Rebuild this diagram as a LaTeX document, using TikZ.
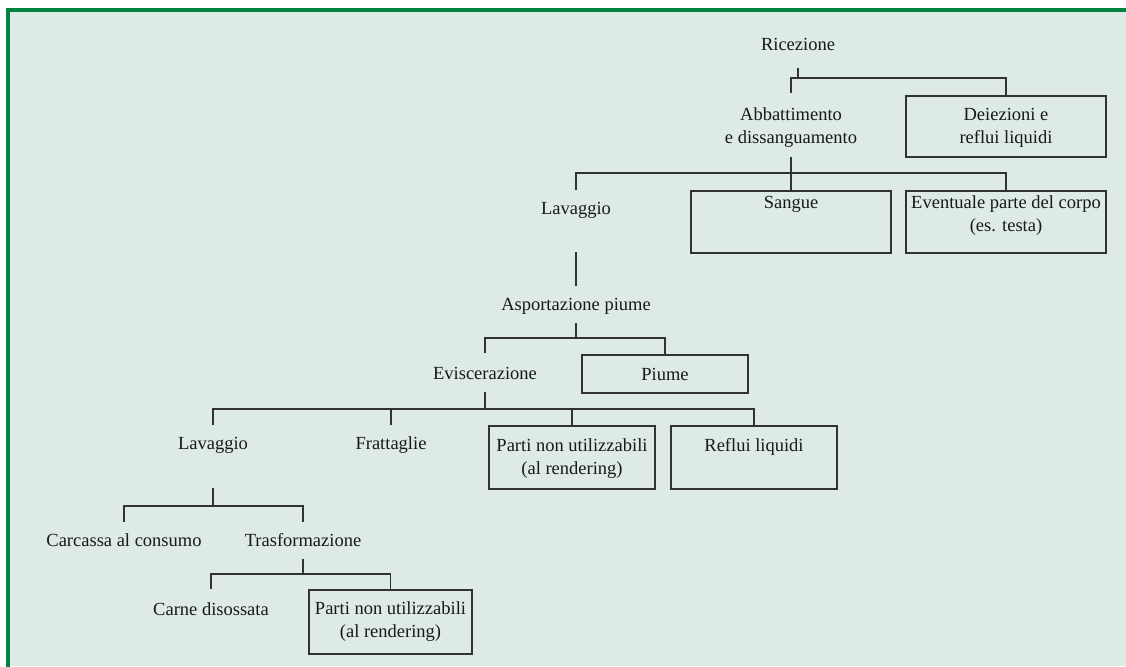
\documentclass[tikz,border=0pt]{standalone}
\usepackage{fontspec}
\setmainfont{Liberation Serif}
\definecolor{panelbg}{RGB}{221,235,228}
\definecolor{framegreen}{RGB}{0,130,64}
\definecolor{ink}{RGB}{25,25,25}
\definecolor{wire}{RGB}{50,50,50}
% fixed-size cell: width, height, top padding, content (top aligned, centred)
\newcommand{\cell}[4]{\parbox[c][#2pt][t]{#1pt}{\centering\vspace*{#3pt}\strut #4}}
\begin{document}
\begin{tikzpicture}[x=1pt,y=-1pt,
  every node/.style={inner sep=0pt,outer sep=0pt,text=ink,
    font=\fontsize{18.5}{23}\selectfont},
  txt/.style={draw=none},
  bx/.style={draw=wire,line width=1.4pt},
  link/.style={draw=wire,line width=1.3pt}]
\useasboundingbox (0,0) rectangle (1126,666);
% panel
\fill[white] (0,0) rectangle (1126,666);
\fill[panelbg] (8,10) rectangle (1126,666);
\draw[framegreen,line width=3.2pt] (8,667) -- (8,10) -- (1127,10);

% process steps and outputs
\node[txt] (ric)  at (798,49)    {\cell{140}{38}{4.4}{Ricezione}};
\node[txt] (abb)  at (791,125)   {\cell{200}{64}{11.4}{Abbattimento\\e dissanguamento}};
\node[bx]  (dei)  at (1006,126.5){\cell{200}{61}{8.4}{Deiezioni e\\reflui liquidi}};
\node[txt] (lav1) at (576,221)   {\cell{140}{62}{8.4}{Lavaggio}};
\node[bx]  (san)  at (791,222)   {\cell{200}{62}{1.4}{Sangue}};
\node[bx]  (eve)  at (1006,222)  {\cell{200}{62}{1.4}{Eventuale parte del corpo\\(es. testa)}};
\node[txt] (asp)  at (576,304.5) {\cell{200}{37}{8.4}{Asportazione piume}};
\node[txt] (evi)  at (485,372.5) {\cell{160}{39}{10.4}{Eviscerazione}};
\node[bx]  (piu)  at (665,374)   {\cell{166}{38}{9.4}{Piume}};
\node[txt] (lav2) at (213,456.5) {\cell{140}{63}{8.4}{Lavaggio}};
\node[txt] (fra)  at (391,456.5) {\cell{140}{63}{8.4}{Frattaglie}};
\node[bx]  (pa1)  at (572,457.5) {\cell{166}{63}{9.4}{Parti non utilizzabili\\(al rendering)}};
\node[bx]  (ref)  at (754,457.5) {\cell{166}{63}{9.4}{Reflui liquidi}};
\node[txt] (car)  at (124,542)   {\cell{200}{40}{8.4}{Carcassa al consumo}};
\node[txt] (tra)  at (303,540.5) {\cell{160}{37}{8.4}{Trasformazione}};
\node[txt] (cdi)  at (211,609)   {\cell{160}{40}{10.4}{Carne disossata}};
\node[bx]  (pa2)  at (390.5,622) {\cell{163}{64}{8.4}{Parti non utilizzabili\\(al rendering)}};

% branching levels
\coordinate (b1) at (0,78);
\coordinate (b2) at (0,173);
\coordinate (b3) at (0,338);
\coordinate (b4) at (0,409);
\coordinate (b5) at (0,506);
\coordinate (b6) at (0,574);

% connectors
\draw[link] (ric.south) -- (ric.south |- b1);
\draw[link] (abb.north) |- (b1 -| dei.north) -- (dei.north);

\draw[link] (abb.south) -- (abb.south |- b2);
\draw[link] (lav1.north) |- (b2 -| eve.north) -- (eve.north);
\draw[link] (san.north) -- (san.north |- b2);

\draw[link] (lav1.south) -- (asp.north);

\draw[link] (asp.south) -- (asp.south |- b3);
\draw[link] (evi.north) |- (b3 -| piu.north) -- (piu.north);

\draw[link] (evi.south) -- (evi.south |- b4);
\draw[link] (lav2.north) |- (b4 -| ref.north) -- (ref.north);
\draw[link] (fra.north) -- (fra.north |- b4);
\draw[link] (pa1.north) -- (pa1.north |- b4);

\draw[link] (lav2.south) -- (lav2.south |- b5);
\draw[link] (car.north) |- (b5 -| tra.north) -- (tra.north);

\draw[link] (tra.south) -- (tra.south |- b6);
\draw[link] (cdi.north) |- (b6 -| pa2.north) -- (pa2.north);
\end{tikzpicture}
\end{document}
